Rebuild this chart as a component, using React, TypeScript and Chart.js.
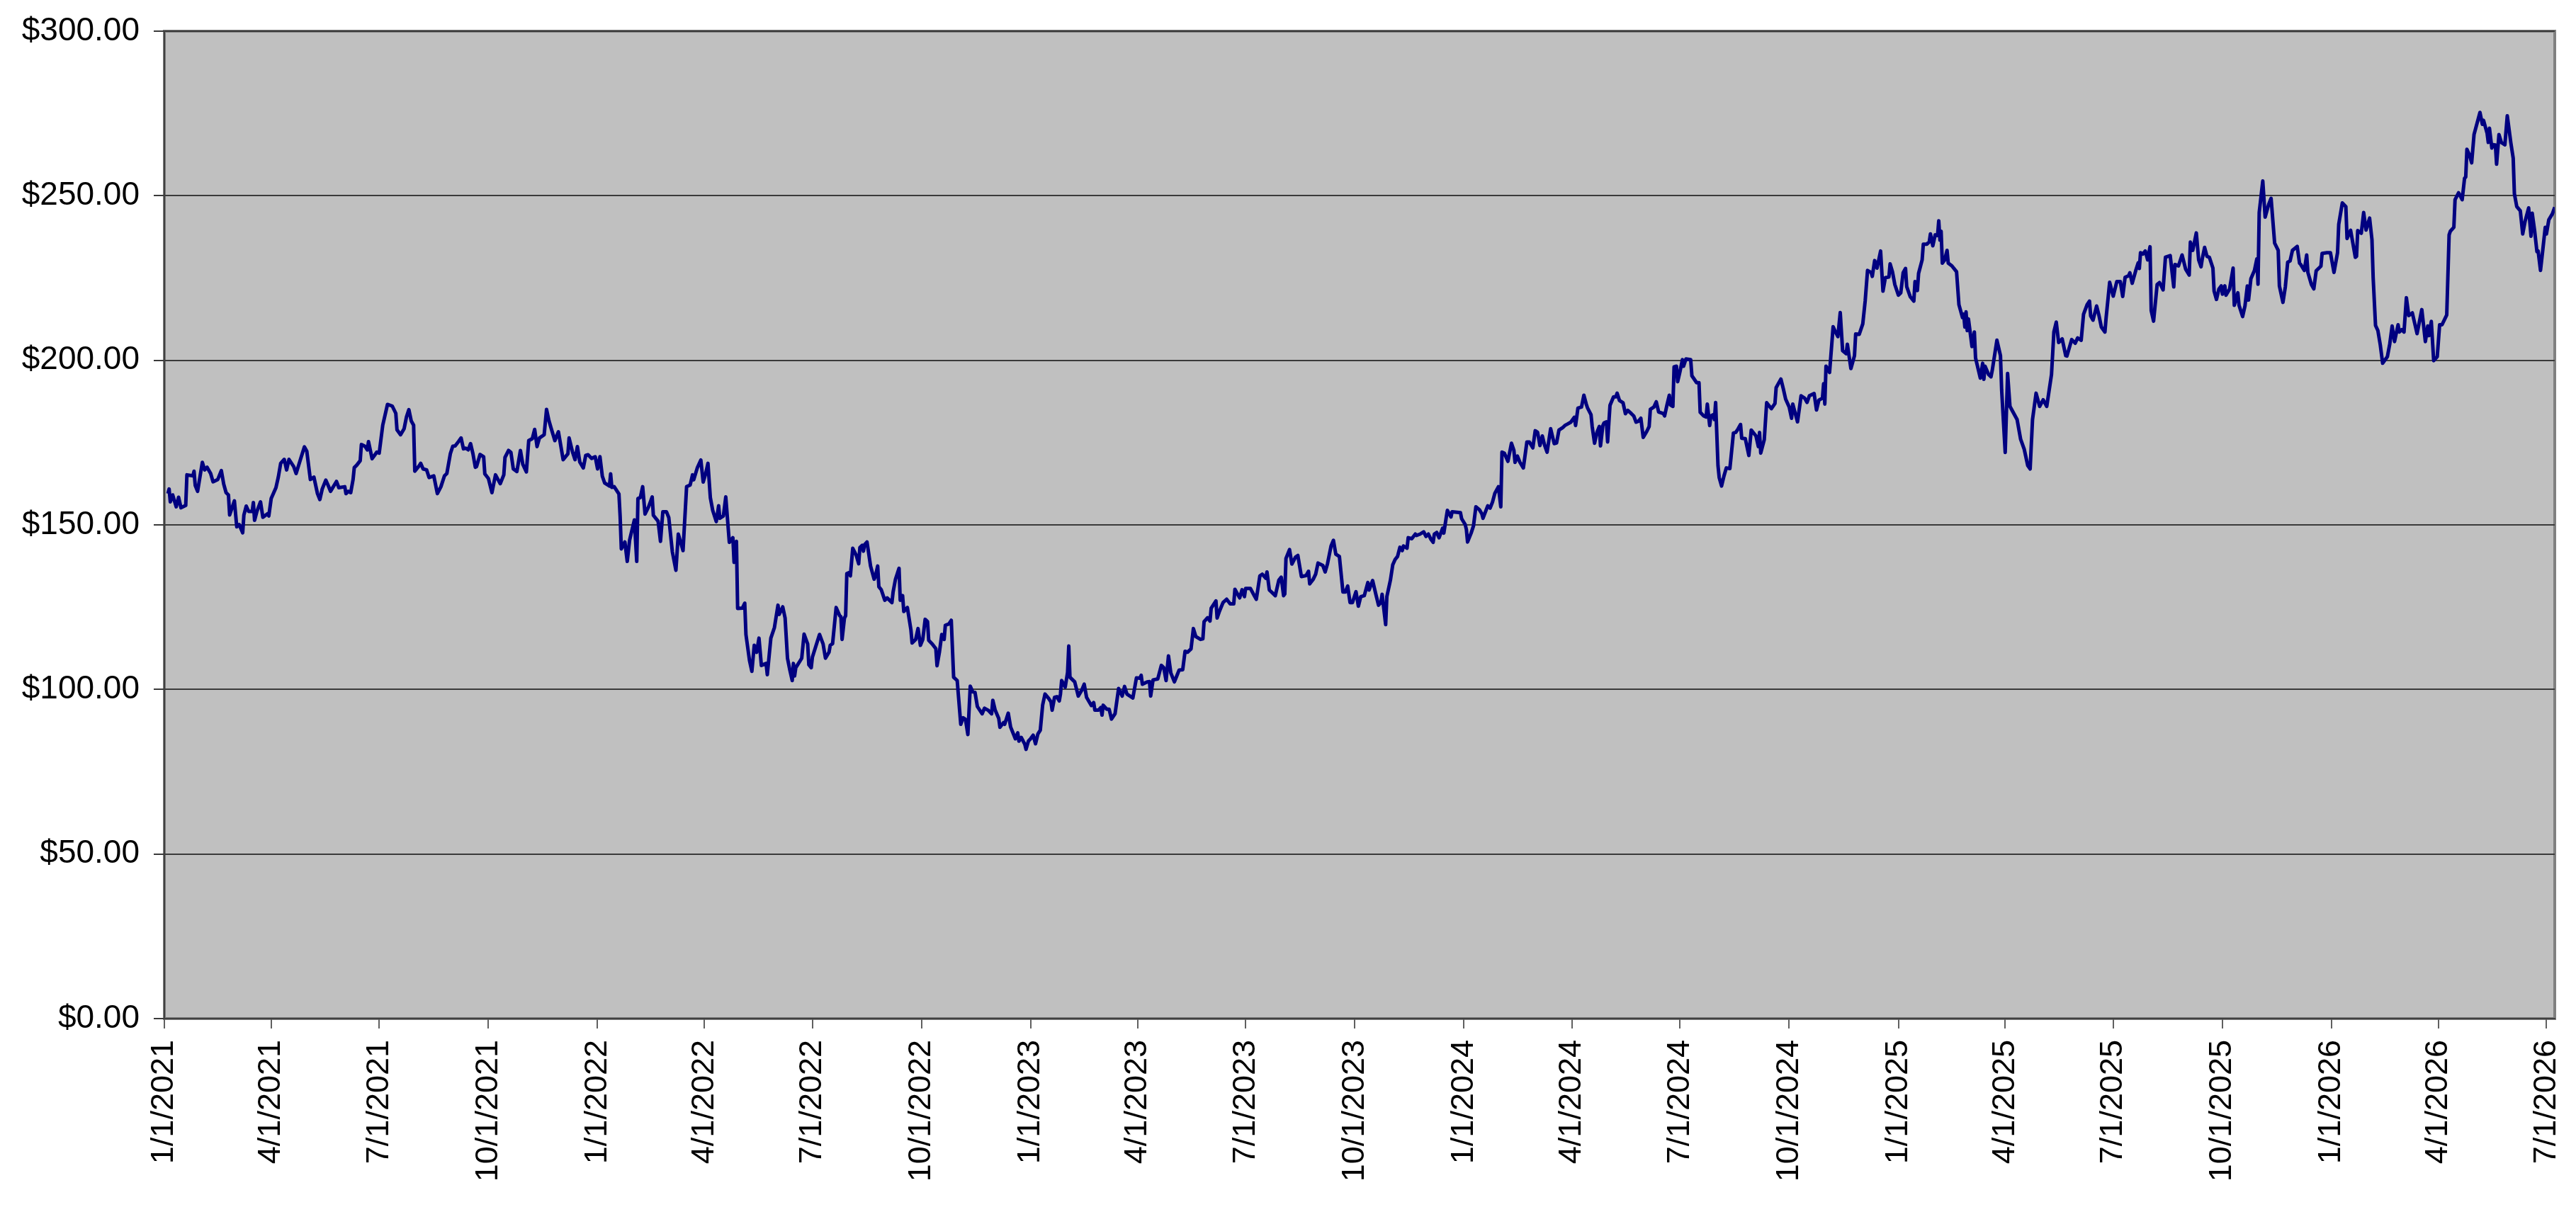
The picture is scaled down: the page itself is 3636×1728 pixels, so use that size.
// App.tsx
import React, { useEffect, useRef } from 'react';
import { Chart, registerables, Plugin } from 'chart.js';

Chart.register(...registerables);

// quarterly date ticks on the x axis
const tickLabels = [
  '1/1/2021', '4/1/2021', '7/1/2021', '10/1/2021',
  '1/1/2022', '4/1/2022', '7/1/2022', '10/1/2022',
  '1/1/2023', '4/1/2023', '7/1/2023', '10/1/2023',
  '1/1/2024', '4/1/2024', '7/1/2024', '10/1/2024',
  '1/1/2025', '4/1/2025', '7/1/2025', '10/1/2025',
  '1/1/2026', '4/1/2026', '7/1/2026',
];

// days since 1/1/2021
const dayOffsets = [
  3, 4, 5, 7, 10, 12, 14, 18, 19, 24,
  25, 26, 28, 32, 34, 36, 39, 41, 45, 48,
  50, 52, 54, 55, 59, 61, 63, 66, 67, 69,
  71, 74, 75, 76, 78, 81, 83, 87, 88, 90,
  94, 96, 98, 101, 103, 105, 109, 111, 115, 118,
  120, 123, 126, 129, 131, 133, 136, 138, 140, 145,
  147, 152, 153, 155, 157, 159, 160, 162, 165, 166,
  169, 171, 172, 175, 177, 179, 181, 184, 188, 192,
  195, 196, 199, 202, 204, 206, 208, 210, 211, 215,
  216, 218, 221, 223, 227, 230, 233, 236, 238, 241,
  243, 245, 248, 250, 252, 254, 256, 258, 260, 262,
  263, 266, 269, 270, 273, 276, 279, 283, 286, 287,
  290, 292, 294, 297, 300, 302, 305, 307, 310, 312,
  314, 316, 320, 322, 324, 326, 329, 332, 336, 340,
  341, 344, 346, 348, 350, 353, 355, 357, 360, 363,
  365, 367, 369, 371, 375, 376, 377, 379, 383, 384,
  385, 388, 390, 392, 396, 398, 399, 401, 403, 405,
  408, 411, 412, 416, 418, 420, 423, 425, 428, 431,
  433, 437, 440, 443, 445, 446, 449, 452, 454, 456,
  458, 460, 462, 465, 467, 468, 471, 473, 476, 479,
  480, 482, 483, 487, 489, 490, 493, 495, 497, 499,
  501, 503, 507, 508, 511, 514, 517, 518, 521, 523,
  525, 527, 529, 530, 531, 532, 536, 537, 539, 542,
  543, 545, 546, 552, 555, 557, 560, 561, 563, 566,
  569, 570, 571, 573, 574, 575, 577, 578, 580, 583,
  585, 586, 588, 589, 590, 592, 593, 595, 598, 599,
  601, 602, 604, 607, 609, 613, 614, 616, 619, 620,
  622, 623, 626, 629, 630, 633, 635, 637, 639, 641,
  643, 644, 647, 650, 651, 653, 655, 657, 658, 661,
  663, 665, 668, 671, 673, 675, 677, 679, 681, 683,
  685, 689, 691, 694, 697, 698, 700, 703, 704, 707,
  708, 711, 713, 717, 719, 720, 722, 725, 726, 728,
  730, 732, 734, 736, 738, 740, 742, 745, 747, 748,
  750, 752, 754, 755, 756, 759, 761, 762, 763, 767,
  770, 773, 775, 777, 781, 783, 784, 787, 789, 790,
  791, 794, 796, 798, 801, 804, 807, 809, 811, 816,
  819, 822, 823, 824, 828, 830, 831, 833, 837, 840,
  842, 844, 846, 848, 851, 853, 855, 858, 860, 862,
  865, 867, 869, 873, 875, 876, 879, 881, 882, 886,
  887, 889, 892, 895, 898, 901, 902, 906, 908, 910,
  911, 915, 918, 920, 923, 925, 928, 929, 931, 934,
  936, 939, 941, 943, 944, 945, 948, 950, 953, 955,
  958, 962, 964, 965, 968, 970, 972, 976, 978, 980,
  983, 985, 987, 990, 993, 995, 997, 999, 1001, 1004,
  1006, 1008, 1011, 1014, 1015, 1018, 1021, 1023, 1025, 1026,
  1029, 1030, 1033, 1035, 1037, 1039, 1041, 1043, 1044, 1047,
  1048, 1051, 1054, 1055, 1058, 1061, 1063, 1065, 1067, 1069,
  1070, 1072, 1074, 1077, 1078, 1080, 1081, 1084, 1085, 1092,
  1093, 1096, 1097, 1098, 1101, 1103, 1105, 1108, 1110, 1111,
  1115, 1117, 1119, 1121, 1124, 1126, 1127, 1129, 1132, 1135,
  1137, 1138, 1140, 1142, 1145, 1148, 1150, 1153, 1155, 1157,
  1159, 1161, 1163, 1165, 1168, 1171, 1173, 1175, 1178, 1180,
  1182, 1185, 1188, 1189, 1191, 1194, 1196, 1198, 1199, 1202,
  1203, 1205, 1207, 1209, 1210, 1212, 1213, 1215, 1216, 1218,
  1221, 1223, 1224, 1226, 1229, 1231, 1233, 1236, 1238, 1240,
  1242, 1244, 1246, 1249, 1251, 1252, 1255, 1257, 1259, 1263,
  1264, 1266, 1268, 1269, 1271, 1272, 1274, 1275, 1277, 1279,
  1280, 1282, 1286, 1287, 1291, 1293, 1294, 1297, 1299, 1300,
  1302, 1303, 1305, 1306, 1307, 1309, 1310, 1312, 1314, 1316,
  1319, 1320, 1322, 1324, 1326, 1328, 1329, 1332, 1335, 1337,
  1341, 1343, 1344, 1345, 1348, 1350, 1354, 1357, 1358, 1362,
  1364, 1366, 1369, 1371, 1372, 1376, 1379, 1382, 1384, 1386,
  1390, 1392, 1394, 1397, 1398, 1399, 1400, 1403, 1406, 1408,
  1410, 1412, 1414, 1417, 1418, 1421, 1424, 1425, 1428, 1431,
  1433, 1435, 1438, 1439, 1441, 1443, 1446, 1448, 1450, 1453,
  1454, 1456, 1458, 1461, 1463, 1465, 1467, 1468, 1471, 1474,
  1475, 1477, 1478, 1481, 1482, 1485, 1487, 1488, 1490, 1492,
  1494, 1495, 1496, 1497, 1498, 1500, 1502, 1503, 1506, 1510,
  1512, 1515, 1516, 1517, 1518, 1519, 1520, 1523, 1525, 1526,
  1530, 1532, 1533, 1534, 1537, 1539, 1540, 1544, 1547, 1548,
  1551, 1553, 1555, 1558, 1561, 1564, 1567, 1570, 1572, 1574,
  1577, 1580, 1583, 1586, 1590, 1592, 1594, 1596, 1599, 1602,
  1603, 1607, 1610, 1612, 1615, 1617, 1620, 1622, 1623, 1625,
  1628, 1630, 1632, 1635, 1636, 1639, 1642, 1645, 1648, 1650,
  1652, 1655, 1656, 1658, 1661, 1663, 1664, 1665, 1667, 1669,
  1671, 1673, 1674, 1676, 1679, 1681, 1684, 1686, 1690, 1693,
  1694, 1697, 1700, 1703, 1706, 1707, 1709, 1712, 1714, 1716,
  1717, 1719, 1721, 1723, 1726, 1727, 1729, 1731, 1733, 1734,
  1736, 1737, 1740, 1743, 1744, 1747, 1748, 1751, 1753, 1755,
  1756, 1758, 1761, 1763, 1764, 1765, 1768, 1770, 1773, 1775,
  1778, 1781, 1782, 1785, 1787, 1789, 1791, 1793, 1797, 1799,
  1800, 1803, 1805, 1806, 1809, 1811, 1813, 1817, 1818, 1822,
  1825, 1828, 1831, 1832, 1835, 1838, 1839, 1842, 1846, 1847,
  1848, 1851, 1853, 1855, 1858, 1860, 1861, 1863, 1865, 1867,
  1869, 1873, 1875, 1877, 1879, 1882, 1883, 1885, 1887, 1889,
  1891, 1894, 1898, 1902, 1905, 1907, 1908, 1910, 1912, 1915,
  1917, 1919, 1923, 1925, 1926, 1929, 1930, 1933, 1936, 1938,
  1939, 1940, 1942, 1944, 1946, 1951, 1953, 1954, 1957, 1958,
  1959, 1961, 1962, 1964, 1965, 1967, 1969, 1972, 1974, 1977,
  1979, 1980, 1982, 1985, 1987, 1989, 1992, 1994, 1995, 1997,
  1999, 2000, 2002, 2004, 2006, 2007, 2009, 2012, 2014,
];

const prices = [
  159.5, 160.9, 157.0, 159.1, 155.5, 158.4, 155.2, 155.9, 165.2, 164.9,
  166.3, 162.0, 160.2, 169.0, 166.7, 167.5, 165.6, 163.1, 163.8, 166.5,
  162.4, 159.8, 159.1, 153.0, 157.3, 149.4, 150.1, 147.6, 153.0, 155.7,
  154.1, 154.1, 156.8, 151.4, 154.1, 157.0, 152.3, 153.4, 152.7, 158.0,
  161.3, 164.5, 168.7, 169.9, 166.7, 169.9, 167.7, 165.6, 170.3, 173.7,
  172.4, 163.8, 164.5, 159.5, 157.7, 160.9, 163.6, 162.0, 160.2, 163.2,
  161.3, 161.6, 159.5, 160.2, 159.8, 163.8, 167.4, 168.1, 169.5, 174.4,
  173.9, 172.8, 175.3, 170.1, 171.1, 172.1, 171.8, 180.3, 186.6, 186.1,
  183.9, 178.9, 177.4, 179.2, 182.8, 185.0, 181.6, 180.3, 166.3, 168.1,
  168.7, 167.0, 166.7, 164.4, 164.9, 159.5, 161.6, 164.9, 165.6, 171.7,
  173.9, 174.0, 175.4, 176.4, 173.1, 173.3, 172.8, 174.7, 171.6, 167.5,
  167.7, 171.4, 170.7, 165.5, 164.1, 159.8, 165.2, 162.5, 165.2, 170.5,
  172.6, 172.0, 167.0, 166.2, 172.6, 168.4, 166.1, 175.6, 176.2, 179.0,
  173.8, 176.4, 177.4, 185.1, 181.7, 179.2, 175.6, 178.3, 169.8, 171.6,
  176.4, 172.0, 169.8, 173.8, 169.1, 167.3, 171.1, 171.3, 170.2, 170.7,
  167.0, 170.7, 164.8, 162.7, 161.8, 165.5, 161.4, 161.6, 159.4, 152.6,
  142.7, 144.8, 138.9, 145.4, 151.5, 138.9, 158.0, 158.3, 161.6, 153.3,
  155.5, 158.5, 152.9, 151.1, 145.0, 154.0, 154.0, 152.2, 141.8, 136.2,
  147.2, 142.2, 161.6, 162.1, 165.2, 163.7, 167.3, 169.7, 163.0, 165.5,
  168.7, 158.3, 154.4, 151.0, 155.8, 152.0, 152.7, 158.5, 144.7, 146.1,
  138.6, 145.0, 124.6, 124.7, 126.2, 116.7, 108.8, 105.5, 113.4, 111.3,
  115.6, 107.3, 107.9, 104.5, 115.6, 118.8, 125.6, 122.8, 125.1, 121.7,
  109.5, 105.9, 102.7, 107.9, 104.1, 106.6, 108.9, 109.5, 116.8, 113.8,
  107.5, 106.6, 109.8, 116.7, 113.8, 109.5, 111.3, 113.4, 113.9, 124.9,
  122.4, 122.1, 115.2, 121.7, 122.4, 135.2, 135.5, 134.5, 142.9, 140.7,
  138.2, 143.1, 143.8, 142.0, 144.0, 144.8, 142.4, 137.5, 133.5, 134.3,
  137.5, 131.2, 130.3, 127.1, 127.8, 126.4, 129.6, 133.5, 136.8, 127.1,
  128.5, 123.7, 124.9, 118.1, 114.1, 115.2, 118.5, 113.4, 115.2, 121.3,
  120.6, 114.9, 113.8, 112.4, 107.2, 111.3, 116.7, 115.2, 119.5, 119.9,
  121.0, 103.7, 102.7, 89.4, 91.4, 90.9, 86.3, 101.0, 99.3, 99.1,
  94.8, 92.6, 94.3, 93.7, 92.6, 96.7, 93.7, 91.2, 88.5, 89.9,
  89.4, 92.8, 88.6, 85.0, 86.8, 84.3, 85.4, 83.3, 81.8, 84.3,
  85.1, 86.1, 83.5, 86.5, 87.6, 95.3, 98.6, 97.3, 96.2, 93.7,
  97.6, 97.8, 96.5, 98.6, 102.7, 100.7, 105.2, 113.2, 103.7, 102.3,
  98.0, 99.8, 101.6, 97.6, 95.1, 96.0, 93.7, 93.7, 94.5, 92.2,
  95.2, 94.0, 94.0, 91.0, 92.6, 100.3, 98.0, 100.9, 98.6, 97.4,
  103.5, 103.4, 104.3, 101.6, 102.3, 102.4, 98.0, 102.9, 103.2, 107.3,
  106.6, 102.7, 110.2, 105.0, 102.3, 104.1, 105.9, 106.0, 111.6, 111.3,
  112.3, 118.5, 116.1, 115.2, 115.4, 120.6, 121.8, 120.8, 124.7, 126.9,
  121.7, 123.8, 126.4, 127.4, 126.0, 126.0, 130.4, 127.8, 130.3, 128.2,
  130.7, 130.7, 128.7, 127.4, 134.5, 135.0, 133.8, 135.7, 130.2, 129.2,
  128.5, 133.2, 134.1, 128.5, 129.0, 139.8, 142.5, 138.1, 140.2, 140.7,
  134.3, 134.6, 135.9, 132.1, 133.5, 135.0, 138.4, 137.7, 135.7, 138.2,
  143.6, 145.3, 141.1, 140.4, 129.6, 129.6, 131.4, 126.4, 126.4, 129.7,
  125.3, 128.2, 128.5, 132.5, 130.2, 133.1, 128.5, 125.6, 126.4, 128.9,
  119.7, 128.2, 133.2, 137.9, 139.5, 140.4, 143.2, 142.2, 143.6, 142.9,
  146.1, 145.8, 147.2, 146.8, 147.2, 147.9, 146.5, 147.2, 145.7, 144.7,
  147.2, 147.7, 146.1, 149.0, 147.5, 152.2, 154.4, 152.4, 154.0, 153.7,
  151.9, 150.1, 148.6, 144.8, 147.5, 149.7, 155.5, 154.6, 153.4, 152.0,
  155.8, 155.1, 156.9, 159.6, 161.6, 155.5, 172.1, 171.8, 169.3, 174.8,
  172.7, 169.0, 170.9, 169.1, 167.3, 175.2, 175.2, 173.4, 178.6, 178.1,
  174.1, 177.0, 174.1, 172.1, 179.2, 174.7, 174.9, 178.8, 179.5, 180.2,
  180.6, 181.2, 182.7, 180.2, 185.5, 185.8, 189.4, 186.7, 185.6, 183.5,
  179.9, 174.8, 178.1, 179.9, 174.0, 180.2, 181.0, 181.3, 175.2, 186.3,
  188.9, 188.9, 190.0, 187.8, 187.1, 183.8, 184.8, 183.8, 183.1, 181.2,
  181.5, 182.4, 176.6, 178.4, 179.9, 185.1, 185.8, 187.4, 184.3, 183.8,
  183.1, 186.4, 189.4, 186.4, 186.0, 198.0, 198.2, 193.5, 196.6, 200.2,
  198.2, 200.4, 200.2, 195.3, 193.2, 193.2, 184.2, 183.1, 182.8, 186.7,
  180.2, 183.1, 183.5, 182.0, 187.2, 168.0, 164.4, 161.8, 164.8, 167.3,
  167.1, 170.6, 177.9, 178.1, 179.2, 180.5, 176.3, 176.2, 171.1, 178.8,
  177.0, 173.8, 178.1, 171.8, 175.9, 187.1, 185.3, 186.9, 191.7, 194.3,
  191.4, 188.2, 185.8, 182.4, 186.7, 181.3, 189.2, 188.5, 187.2, 189.2,
  189.9, 184.9, 187.9, 188.5, 192.9, 186.7, 198.2, 196.3, 210.2, 208.6,
  207.2, 214.5, 202.9, 202.0, 204.9, 197.5, 201.4, 208.0, 207.9, 211.1,
  218.0, 227.3, 226.7, 225.5, 230.3, 228.0, 233.2, 221.0, 225.1, 225.3,
  229.3, 226.9, 223.0, 219.8, 220.5, 226.6, 227.9, 222.4, 219.3, 218.0,
  223.9, 221.2, 226.4, 230.5, 235.3, 235.3, 236.0, 238.4, 234.8, 238.1,
  237.9, 242.4, 236.5, 239.2, 229.5, 230.5, 233.4, 229.5, 228.7, 226.9,
  216.9, 213.0, 214.0, 210.1, 214.7, 209.0, 212.6, 204.2, 208.6, 200.7,
  194.6, 199.1, 194.2, 198.2, 195.7, 195.0, 196.8, 206.1, 201.4, 191.0,
  172.0, 196.0, 186.0, 184.0, 182.0, 176.0, 173.0, 168.0, 167.0, 182.0,
  190.0, 186.0, 188.0, 186.0, 195.7, 208.6, 211.6, 205.4, 206.5, 201.4,
  201.3, 206.3, 205.2, 206.8, 206.1, 214.0, 216.9, 218.0, 213.5, 212.2,
  216.5, 213.6, 210.1, 208.6, 212.9, 223.7, 219.5, 223.9, 223.9, 219.4,
  225.2, 225.7, 226.6, 223.4, 227.3, 229.6, 227.9, 232.7, 232.3, 233.2,
  230.5, 234.5, 215.1, 211.9, 223.0, 223.6, 221.4, 231.3, 231.8, 222.3,
  229.1, 228.7, 232.0, 227.7, 225.9, 235.9, 233.4, 238.7, 230.5, 228.4,
  230.8, 234.3, 231.6, 231.3, 228.0, 221.0, 218.5, 221.6, 222.6, 220.1,
  222.6, 219.8, 221.6, 228.0, 216.7, 220.5, 216.7, 213.3, 216.5, 222.6,
  218.3, 224.8, 227.3, 230.8, 223.1, 244.9, 254.5, 243.5, 247.4, 249.2,
  235.6, 233.4, 222.6, 217.6, 222.3, 229.8, 230.2, 233.4, 234.6, 229.5,
  229.1, 227.3, 232.0, 226.7, 223.0, 221.7, 227.2, 228.6, 232.5, 232.7,
  232.7, 226.7, 232.7, 241.3, 247.8, 246.7, 237.0, 239.5, 231.3, 231.6,
  239.4, 238.6, 244.9, 239.6, 243.2, 236.6, 225.1, 210.6, 209.0, 204.7,
  199.1, 201.1, 205.0, 210.4, 205.7, 210.8, 208.6, 209.3, 208.6, 219.0,
  213.6, 214.4, 208.1, 215.4, 205.7, 210.4, 207.5, 211.8, 199.9, 201.1,
  210.8, 210.8, 213.8, 238.1, 239.2, 240.4, 248.8, 250.9, 248.8, 255.3,
  255.7, 264.1, 262.5, 260.0, 268.6, 275.3, 271.7, 272.9, 269.0, 266.2,
  270.5, 264.5, 265.5, 265.4, 259.6, 268.6, 266.2, 265.5, 274.3, 266.1,
  261.4, 250.6, 246.7, 245.4, 238.4, 242.2, 246.3, 237.7, 244.7, 239.5,
  233.0, 233.2, 227.3, 233.8, 240.4, 238.4, 242.7, 244.5, 246.5,
];

const START = Date.UTC(2021, 0, 1);
const toOffset = (label: string) => {
  const [m, d, y] = label.split('/').map(Number);
  return Math.round((Date.UTC(y, m - 1, d) - START) / 86400000);
};
const tickDays = tickLabels.map(toOffset);

const FONT = '"Liberation Sans", Arial, Helvetica, sans-serif';

// grey plot area with the darker frame, like the old spreadsheet charts
const plotBackground: Plugin<'line'> = {
  id: 'plotBackground',
  beforeDraw(chart) {
    const { ctx, chartArea } = chart;
    const { left, top, right, bottom } = chartArea;
    ctx.save();
    ctx.fillStyle = '#C0C0C0';
    ctx.fillRect(left, top, right - left, bottom - top);
    ctx.strokeStyle = '#808080';
    ctx.lineWidth = 4;
    ctx.strokeRect(left, top, right - left, bottom - top);
    ctx.restore();
  },
};

const PriceChart: React.FC = () => {
  const chartRef = useRef<HTMLCanvasElement | null>(null);

  useEffect(() => {
    if (!chartRef.current) return;
    const ctx = chartRef.current.getContext('2d');
    if (!ctx) return;

    const chart = new Chart(ctx, {
      type: 'line',
      data: {
        datasets: [
          {
            label: 'Price',
            data: dayOffsets.map((d, i) => ({ x: d, y: prices[i] })),
            borderColor: '#000080',
            borderWidth: 5,
            borderJoinStyle: 'round',
            pointRadius: 0,
            tension: 0,
            fill: false,
          },
        ],
      },
      options: {
        animation: false,
        responsive: true,
        maintainAspectRatio: false,
        devicePixelRatio: 1,
        layout: { padding: { left: 0, right: 22, top: 36, bottom: 0 } },
        plugins: {
          legend: { display: false },
          tooltip: { enabled: false },
        },
        scales: {
          x: {
            type: 'linear',
            min: 0,
            max: dayOffsets[dayOffsets.length - 1],
            afterBuildTicks: (axis) => {
              axis.ticks = tickDays.map((v) => ({ value: v }));
            },
            afterFit: (axis) => {
              axis.height = 282;
              axis.paddingLeft = 0;
              axis.paddingRight = 0;
            },
            grid: {
              display: true,
              drawOnChartArea: false,
              drawTicks: true,
              tickLength: 14,
              color: '#606060',
              lineWidth: 2,
            },
            border: { display: true, color: '#404040', width: 2 },
            ticks: {
              autoSkip: false,
              minRotation: 90,
              maxRotation: 90,
              padding: 16,
              color: '#000000',
              font: { family: FONT, size: 45 },
              callback: (value) => {
                const idx = tickDays.indexOf(Number(value));
                return idx >= 0 ? tickLabels[idx] : '';
              },
            },
          },
          y: {
            min: 0,
            max: 300,
            afterFit: (axis) => {
              axis.width = 224;
              axis.paddingTop = 0;
              axis.paddingBottom = 0;
            },
            grid: {
              color: '#3a3a3a',
              lineWidth: 2,
              tickLength: 15,
            },
            border: { display: true, color: '#404040', width: 2 },
            ticks: {
              stepSize: 50,
              padding: 20,
              color: '#000000',
              font: { family: FONT, size: 46 },
              callback: (value) => '$' + Number(value).toFixed(2),
            },
          },
        },
      },
      plugins: [plotBackground],
    });

    return () => chart.destroy();
  }, []);

  return (
    <div style={{ width: 3620, height: 1712, position: 'relative' }}>
      <canvas ref={chartRef} />
    </div>
  );
};

export default function App() {
  return <PriceChart />;
}
